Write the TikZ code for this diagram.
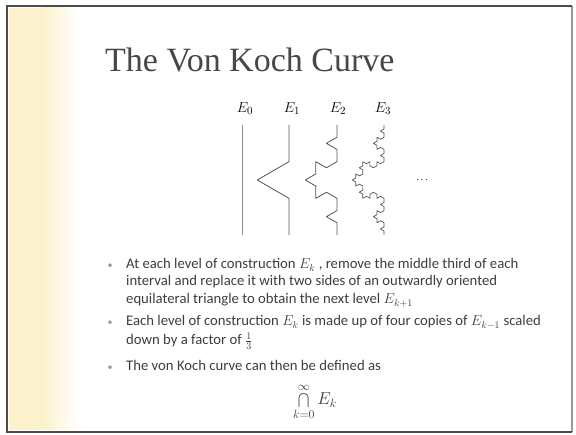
\documentclass[tikz,border=0pt]{standalone}
\usepackage{fontspec}
\setmainfont{Carlito}
\newfontfamily\titlefont{Liberation Serif}
\usetikzlibrary{decorations.fractals}

\definecolor{slidecream}{HTML}{FBF1CC}
\definecolor{slidetext}{HTML}{3E3E3E}
\definecolor{curvegray}{HTML}{555555}

\tikzset{
  koch/.style={curvegray,line width=0.8pt,line join=round,decoration=Koch snowflake},
  bodyline/.style={anchor=base west,inner sep=0pt,text=slidetext,font=\fontsize{14.7}{17}\selectfont},
  bulletdot/.style={inner sep=0pt,text=black!40,font=\fontsize{10}{11}\selectfont},
  levellabel/.style={inner sep=0pt,font=\fontsize{15}{17}\selectfont}
}

\begin{document}
\begin{tikzpicture}[x=1pt,y=-1pt]

\useasboundingbox (0,0) rectangle (576,435);

% Slide and cream band
\fill[white] (7,6) rectangle (572,432);
\fill[slidecream] (9,8) rectangle (42,430);
\shade[left color=slidecream,right color=white] (42,8) rectangle (78,430);

% Frame
\draw[black!40,line width=1.2pt] (572,6) -- (572,432);
\draw[black!70,line width=1.6pt] (572,6) -- (7,6) -- (7,432) -- (572,432);

% Title
\node[anchor=base west,inner sep=0pt,text=black!72,
      font=\titlefont\fontsize{34}{40}\selectfont] (title) at (105,72) {The Von Koch Curve};

% Levels of construction
\draw[black!45,line width=0.6pt] (242,235) -- (242,125);
\draw[koch] decorate{ (289,235) -- (289,125) };
\draw[koch] decorate{ decorate{ (337,235) -- (337,125) }};
\draw[koch,line width=0.7pt] decorate{ decorate{ decorate{ (384,235) -- (384,125) }}};

\foreach \x/\k in {245/0,292/1,338/2,383/3}{
    \node[levellabel] (lbl\k) at (\x,109) {$E_{\k}$};
}
\node (dots) at (422,180) {$\cdots$};

% Bullet text
\foreach \y/\txt in {
    269/{At each level of construction $E_k$ , remove the middle third of each},
    286/{interval and replace it with two sides of an outwardly oriented},
    304/{equilateral triangle to obtain the next level $E_{k+1}$},
    326/{Each level of construction $E_k$ is made up of four copies of $E_{k-1}$ scaled},
    345/{down by a factor of $\frac{1}{3}$},
    371/{The von Koch curve can then be defined as}}{
    \node[bodyline] (line\y) at (126,\y) {\txt};
}

\foreach \y in {266,323,368}{
    \node[bulletdot] (dot\y) at (110,\y) {\textbullet};
}

% Limit set
\node[inner sep=0pt,text=slidetext,font=\fontsize{17}{20}\selectfont] (limit) at (315,402)
    {$\displaystyle\bigcap_{k=0}^{\infty} E_k$};

\end{tikzpicture}
\end{document}
